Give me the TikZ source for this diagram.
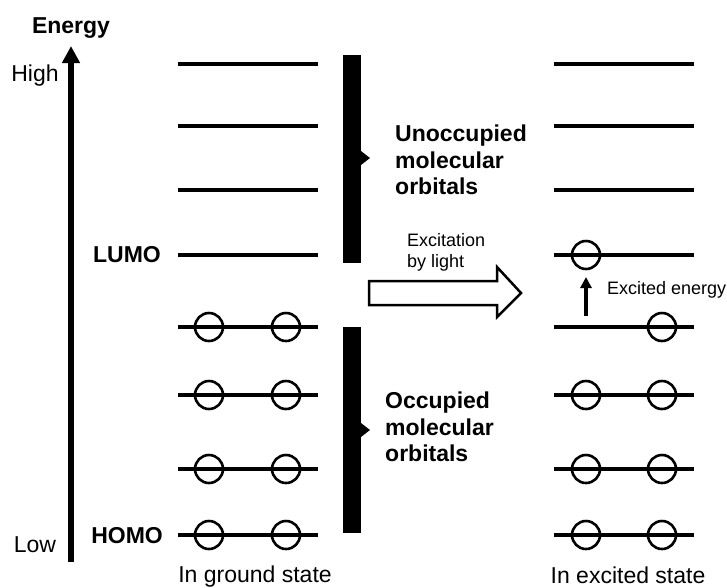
\documentclass[tikz,border=0pt]{standalone}
\usepackage{fontspec}
\setmainfont{Liberation Sans}
\usetikzlibrary{arrows.meta}
\begin{document}
\begin{tikzpicture}[x=1pt,y=-1pt,
 level/.style={line width=4pt},
 elec/.style={circle,draw,line width=2.6pt,minimum size=28pt,inner sep=0pt},
 big/.style={font=\fontsize{23}{26}\selectfont,inner sep=0pt},
 bigb/.style={font=\fontsize{23}{26.5}\selectfont\bfseries,inner sep=0pt},
 small/.style={font=\fontsize{18}{21}\selectfont,inner sep=0pt},
 barbox/.style={fill=black},
 hollow/.style={draw,line width=2.5pt,fill=white,line join=miter},
]
\useasboundingbox (0,0) rectangle (727,587);

% energy axis
\coordinate (ebot) at (71,562);
\coordinate (etop) at (71,46);
\draw[line width=6pt,-{Triangle[width=17pt,length=17pt]}] (ebot) -- (etop);
\node[bigb] (energy) at (71,28) {Energy};
\node[big] (high) at (35,76) {High};
\node[big] (low) at (35,545) {Low};

% levels
\foreach \y [count=\i] in {64,126,190,255,327,395,469,535} {
  \coordinate (La\i) at (178,\y); \coordinate (Lb\i) at (318,\y);
  \coordinate (Ra\i) at (554,\y); \coordinate (Rb\i) at (694,\y);
  \draw[level] (La\i) -- (Lb\i);
  \draw[level] (Ra\i) -- (Rb\i);
}
% ground state electrons
\foreach \i in {5,6,7,8} {
  \node[elec] (gl\i) at (209,0 |- La\i) {};
  \node[elec] (gr\i) at (286,0 |- La\i) {};
}
% excited state electrons
\node[elec] (xl4) at (586,0 |- Ra4) {};
\node[elec] (xr5) at (662,0 |- Ra5) {};
\foreach \i in {6,7,8} {
  \node[elec] (xl\i) at (586,0 |- Ra\i) {};
  \node[elec] (xr\i) at (662,0 |- Ra\i) {};
}

\node[bigb,anchor=east] (lumo) at (161,255) {LUMO};
\node[bigb,anchor=east] (homo) at (163,536) {HOMO};

% bars
\fill[barbox] (343,55) rectangle (361,263);
\fill[barbox] (361,151) -- (370,158) -- (361,165) -- cycle;
\fill[barbox] (343,327) rectangle (361,533);
\fill[barbox] (361,423) -- (370,430) -- (361,437) -- cycle;

\node[bigb,anchor=west,align=left] (unocc) at (395,160) {Unoccupied\\molecular\\orbitals};
\node[bigb,anchor=west,align=left] (occ) at (385,427) {Occupied\\molecular\\orbitals};

% excitation arrow
\draw[hollow] (369,281) -- (497,281) -- (497,267) -- (521,293) -- (497,317) -- (497,305) -- (369,305) -- cycle;
\node[small,anchor=west,align=left] (exc) at (407,252) {Excitation\\by light};

% excited energy arrow
\coordinate (ea) at (586,316);
\coordinate (eb) at (586,277);
\draw[line width=3.5pt,-{Triangle[width=11pt,length=11pt]}] (ea) -- (eb);
\node[small,anchor=west] (excen) at (607,290) {Excited energy};

\node[big] (gs) at (255,577) {In ground state};
\node[big] (es) at (628,575) {In excited state};
\end{tikzpicture}
\end{document}
